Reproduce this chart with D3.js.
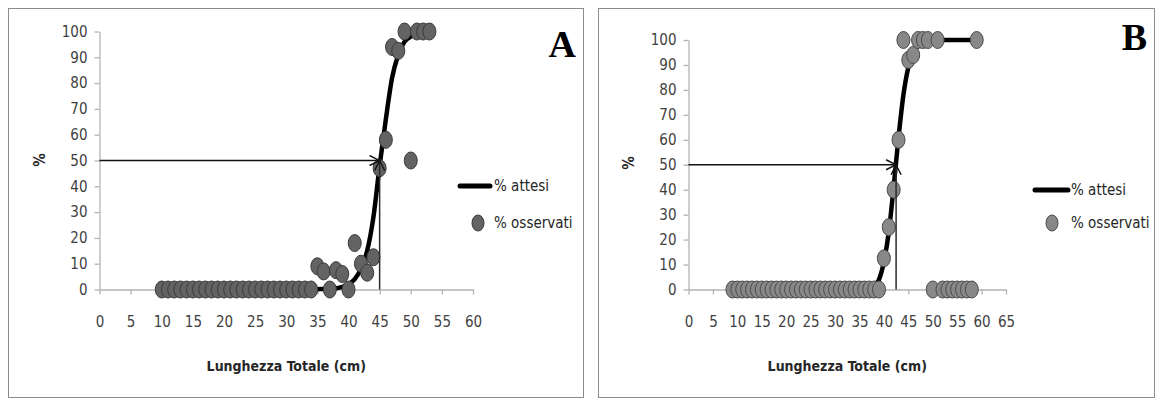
<!DOCTYPE html>
<html>
<head>
<meta charset="utf-8">
<script src="https://cdn.jsdelivr.net/npm/d3@7"></script>
<style>
  body { margin: 0; background: #fff; }
  svg { display: block; }
</style>
</head>
<body>
<svg id="chart" width="1157" height="400"></svg>
<script>
// ---- Maturity ogive data: Lunghezza Totale (cm) vs % mature ----
const lengthsA = [10,11,12,13,14,15,16,17,18,19,20,21,22,23,24,25,26,27,28,29,30,31,32,33,34,
                  35,36,37,38,39,40,41,42,43,44,45,46,47,48,49,50,51,52,53];
const observedA = [0,0,0,0,0,0,0,0,0,0,0,0,0,0,0,0,0,0,0,0,0,0,0,0,0,
                   9,7,0,7.5,6,0,18,10,6.5,12.5,47,58,94,92.5,100,50,100,100,100];
const expectedA = [0,0,0,0,0,0,0,0,0,0,0,0,0,0,0,0,0,0,0,0,0,0,0,0,0,
                   0.1,0.2,0.3,0.5,1,2,4,8,15,28,48,66,82,91,96,98,99,99.5,100];
const l50A = 45;
const xTicksA = [0,5,10,15,20,25,30,35,40,45,50,55,60];

const lengthsB = [9,10,11,12,13,14,15,16,17,18,19,20,21,22,23,24,25,26,27,28,29,30,31,32,33,34,
                  35,36,37,38,39,40,41,42,43,44,45,46,47,48,49,50,51,52,53,54,55,56,57,58,59];
const observedB = [0,0,0,0,0,0,0,0,0,0,0,0,0,0,0,0,0,0,0,0,0,0,0,0,0,0,
                   0,0,0,0,0,12.5,25,40,60,100,92,94,100,100,100,0,100,0,0,0,0,0,0,0,100];
const expectedB = [0,0,0,0,0,0,0,0,0,0,0,0,0,0,0,0,0,0,0,0,0,0,0,0,0,0,
                   0,0,0.5,1.5,4,11,23,41,61,78,89,95,98,99,99.5,100,100,100,100,100,100,100,100,100,100];
const l50B = 42.5;
const xTicksB = [0,5,10,15,20,25,30,35,40,45,50,55,60,65];

const yTicks = [0,10,20,30,40,50,60,70,80,90,100];
const legendLabels = ["% attesi", "% osservati"];
const xTitle = "Lunghezza Totale (cm)";
const yTitle = "%";

// ---- Layout of the two panels ----
const panels = [
  {
    letter: "A", lengths: lengthsA, observed: observedA, expected: expectedA, l50: l50A,
    xTicks: xTicksA, xMax: 60,
    frame: {x: 8.5, y: 8.5, w: 575, h: 389},
    plot: {left: 99.5, right: 473, top: 31.5, bottom: 289.5},
    legend: {lineX0: 460, lineX1: 490, lineY: 186, dotX: 478, dotY: 223, textX: 494},
    letterPos: {x: 576, y: 57},
    yTitlePos: {x: 45, y: 160},
    dotFill: "#636363", dotStroke: "#3a3a3a"
  },
  {
    letter: "B", lengths: lengthsB, observed: observedB, expected: expectedB, l50: l50B,
    xTicks: xTicksB, xMax: 65,
    frame: {x: 598.5, y: 8.5, w: 556, h: 389},
    plot: {left: 688.5, right: 1006, top: 40, bottom: 289.5},
    legend: {lineX0: 1035, lineX1: 1068, lineY: 190, dotX: 1052, dotY: 223, textX: 1071},
    letterPos: {x: 1147, y: 50},
    yTitlePos: {x: 634, y: 163},
    dotFill: "#888888", dotStroke: "#4a4a4a"
  }
];

const svg = d3.select("#chart");
const tickFont = "'Liberation Sans Narrow', 'DejaVu Sans Condensed', sans-serif";

// Open arrowhead shared by both guide lines
svg.append("defs").append("marker")
  .attr("id", "arrowhead")
  .attr("viewBox", "0 0 12 12")
  .attr("refX", 11).attr("refY", 6)
  .attr("markerWidth", 12).attr("markerHeight", 12)
  .attr("markerUnits", "userSpaceOnUse")
  .attr("orient", "auto")
  .append("path")
  .attr("d", "M1,1 L11,6 L1,11")
  .attr("fill", "none")
  .attr("stroke", "#111")
  .attr("stroke-width", 1.4);

panels.forEach(p => {
  const g = svg.append("g");

  // panel frame
  g.append("rect")
    .attr("x", p.frame.x).attr("y", p.frame.y)
    .attr("width", p.frame.w).attr("height", p.frame.h)
    .attr("fill", "#fff").attr("stroke", "#8c8c8c").attr("stroke-width", 1);

  const x = d3.scaleLinear().domain([0, p.xMax]).range([p.plot.left, p.plot.right]);
  const y = d3.scaleLinear().domain([0, 100]).range([p.plot.bottom, p.plot.top]);

  // axes
  const yAxis = g.append("g")
    .attr("transform", `translate(${p.plot.left},0)`)
    .call(d3.axisLeft(y).tickValues(yTicks).tickSize(5).tickPadding(7).tickSizeOuter(0));
  const xAxis = g.append("g")
    .attr("transform", `translate(0,${p.plot.bottom})`)
    .call(d3.axisBottom(x).tickValues(p.xTicks).tickSize(5).tickPadding(22).tickSizeOuter(0));
  [yAxis, xAxis].forEach(ax => {
    ax.select(".domain").attr("stroke", "#b3b3b3").attr("stroke-width", 1.3);
    ax.selectAll(".tick line").attr("stroke", "#b3b3b3").attr("stroke-width", 1.3);
    ax.selectAll(".tick text")
      .attr("fill", "#3f3f3f")
      .style("font-family", tickFont)
      .style("font-size", "15px");
  });

  // axis titles
  g.append("text")
    .attr("x", (p.plot.left + p.plot.right) / 2).attr("y", 371)
    .attr("text-anchor", "middle")
    .attr("fill", "#262626")
    .style("font-family", tickFont).style("font-size", "14px").style("font-weight", "bold")
    .text(xTitle);
  g.append("text")
    .attr("transform", `translate(${p.yTitlePos.x},${p.yTitlePos.y}) rotate(-90)`)
    .attr("text-anchor", "middle")
    .attr("fill", "#262626")
    .style("font-family", tickFont).style("font-size", "15px").style("font-weight", "bold")
    .text(yTitle);

  // expected (fitted) curve
  const pts = p.lengths.map((L, i) => ({L, e: p.expected[i], o: p.observed[i]}));
  g.append("path")
    .datum(pts)
    .attr("fill", "none")
    .attr("stroke", "#000")
    .attr("stroke-width", 4.5)
    .attr("stroke-linejoin", "round")
    .attr("d", d3.line().x(d => x(d.L)).y(d => y(d.e)).curve(d3.curveMonotoneX));

  // observed percentages
  g.selectAll("ellipse.obs")
    .data(pts)
    .join("ellipse")
    .attr("class", "obs")
    .attr("cx", d => x(d.L)).attr("cy", d => y(d.o))
    .attr("rx", 6.5).attr("ry", 8.5)
    .attr("fill", p.dotFill).attr("stroke", p.dotStroke).attr("stroke-width", 1);

  // L50 guide lines with arrows pointing at (L50, 50%)
  g.append("line")
    .attr("x1", x(p.l50)).attr("y1", y(0))
    .attr("x2", x(p.l50)).attr("y2", y(50))
    .attr("stroke", "#2a2a2a").attr("stroke-width", 1.5)
    .attr("marker-end", "url(#arrowhead)");
  g.append("line")
    .attr("x1", x(0)).attr("y1", y(50))
    .attr("x2", x(p.l50)).attr("y2", y(50))
    .attr("stroke", "#111").attr("stroke-width", 1.5)
    .attr("marker-end", "url(#arrowhead)");

  // legend
  const lg = p.legend;
  g.append("line")
    .attr("x1", lg.lineX0).attr("x2", lg.lineX1)
    .attr("y1", lg.lineY).attr("y2", lg.lineY)
    .attr("stroke", "#000").attr("stroke-width", 5).attr("stroke-linecap", "round");
  g.append("text")
    .attr("x", lg.textX).attr("y", lg.lineY).attr("dy", "0.35em")
    .attr("fill", "#262626")
    .style("font-family", tickFont).style("font-size", "15px")
    .text(legendLabels[0]);
  g.append("ellipse")
    .attr("cx", lg.dotX).attr("cy", lg.dotY).attr("rx", 6).attr("ry", 8)
    .attr("fill", p.dotFill).attr("stroke", p.dotStroke).attr("stroke-width", 1);
  g.append("text")
    .attr("x", lg.textX).attr("y", lg.dotY).attr("dy", "0.35em")
    .attr("fill", "#262626")
    .style("font-family", tickFont).style("font-size", "15px")
    .text(legendLabels[1]);

  // panel letter
  g.append("text")
    .attr("x", p.letterPos.x).attr("y", p.letterPos.y)
    .attr("text-anchor", "end")
    .attr("fill", "#000")
    .style("font-family", "'Liberation Serif', 'Times New Roman', serif")
    .style("font-size", "38px").style("font-weight", "bold")
    .text(p.letter);
});
</script>
</body>
</html>
